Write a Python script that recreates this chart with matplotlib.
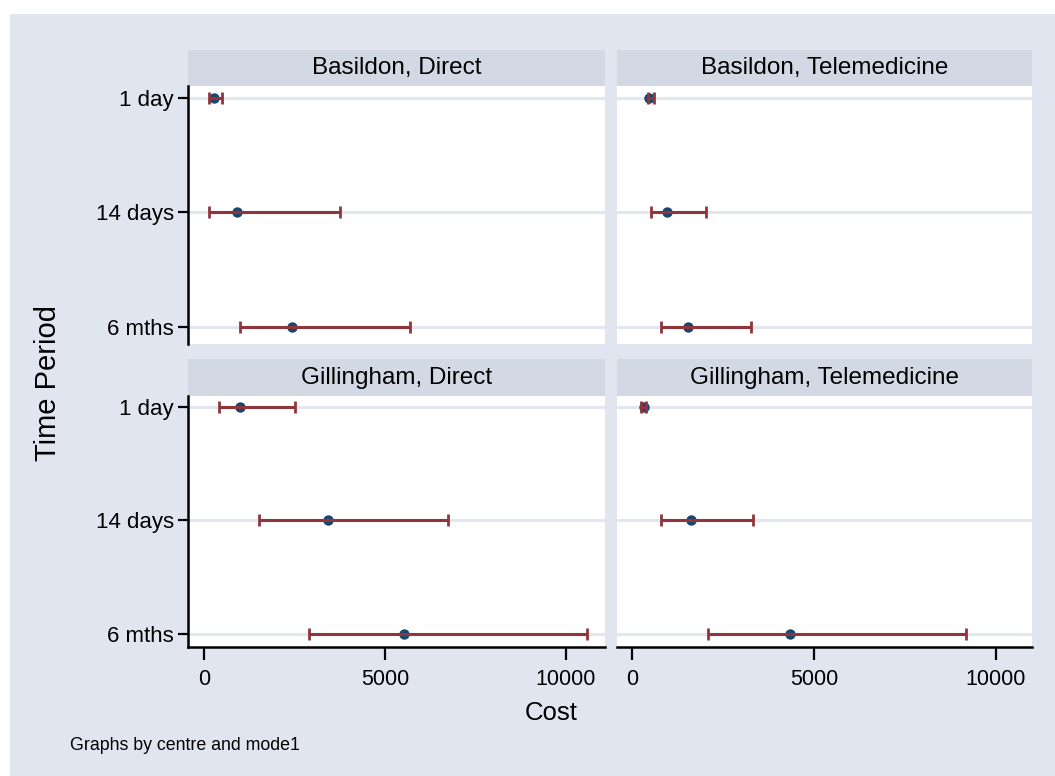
import matplotlib
matplotlib.use("Agg")
import matplotlib.pyplot as plt
from matplotlib.patches import Rectangle

plt.rcParams['font.family'] = ['Liberation Sans', 'DejaVu Sans']

# Cost estimates (mean with 95% interval) by centre and mode
periods = ["1 day", "14 days", "6 mths"]
panels = ["Basildon, Direct", "Basildon, Telemedicine",
          "Gillingham, Direct", "Gillingham, Telemedicine"]

bas_direct_mean = [270, 890, 2420]
bas_direct_lo = [140, 140, 990]
bas_direct_hi = [480, 3740, 5690]

bas_tele_mean = [470, 945, 1525]
bas_tele_lo = [440, 520, 780]
bas_tele_hi = [590, 2030, 3255]

gil_direct_mean = [980, 3405, 5525]
gil_direct_lo = [400, 1515, 2880]
gil_direct_hi = [2500, 6740, 10590]

gil_tele_mean = [313, 1615, 4350]
gil_tele_lo = [250, 780, 2085]
gil_tele_hi = [375, 3320, 9175]

x_ticks = [0, 5000, 10000]

series = [
    (bas_direct_mean, bas_direct_lo, bas_direct_hi),
    (bas_tele_mean, bas_tele_lo, bas_tele_hi),
    (gil_direct_mean, gil_direct_lo, gil_direct_hi),
    (gil_tele_mean, gil_tele_lo, gil_tele_hi),
]

W, H = 1055, 776
BG = "#e1e5f0"
HEADER = "#d3d9e4"
GRID = "#e1e6f0"
NAVY = "#1a476f"
MAROON = "#90353b"

fig = plt.figure(figsize=(W / 100, H / 100), dpi=100, facecolor="white")
fig.patches.append(Rectangle((10 / W, 0), (W - 10) / W, (H - 14) / H,
                             transform=fig.transFigure, facecolor=BG,
                             edgecolor="none", zorder=-10))


def frac(x0, y0, x1, y1):
    return [x0 / W, 1 - y1 / H, (x1 - x0) / W, (y1 - y0) / H]


cols = [(188, 605, (-454, 11079)), (617, 1032, (-421, 10999))]
rows = [(50, 86, 344, (3.151, 0.898)), (359, 396, 647, (3.117, 0.906))]

ypos = [1, 2, 3]

for i, (mean, lo, hi) in enumerate(series):
    r, c = divmod(i, 2)
    x0, x1, xl = cols[c]
    hy0, ay0, ay1, yl = rows[r]

    # strip header
    fig.patches.append(Rectangle((x0 / W, 1 - ay0 / H), (x1 - x0) / W,
                                 (ay0 - hy0) / H, transform=fig.transFigure,
                                 facecolor=HEADER, edgecolor="none", zorder=-5))
    fig.text((x0 + x1) / 2 / W, 1 - (hy0 + ay0) / 2 / H, panels[i],
             ha="center", va="center", fontsize=17.5, color="black")

    ax = fig.add_axes(frac(x0, ay0, x1, ay1))
    ax.set_facecolor("white")
    for yv in ypos:
        ax.axhline(yv, color=GRID, lw=2.2, zorder=1)

    ax.plot(mean, ypos, "o", color=NAVY, markersize=7.5, zorder=3,
            markeredgewidth=0)
    err = [[m - l for m, l in zip(mean, lo)], [h - m for m, h in zip(mean, hi)]]
    ax.errorbar(mean, ypos, xerr=err, fmt="none", ecolor=MAROON,
                elinewidth=2.2, capsize=4.6, capthick=2.0, zorder=4)

    ax.set_xlim(*xl)
    ax.set_ylim(*yl)

    for s in ax.spines.values():
        s.set_visible(False)

    if c == 0:
        ax.spines["left"].set_visible(True)
        ax.spines["left"].set_linewidth(1.8)
        ax.set_yticks(ypos)
        ax.set_yticklabels(periods, fontsize=16)
        ax.tick_params(axis="y", length=7, width=1.6, pad=3)
    else:
        ax.set_yticks([])

    if r == 1:
        ax.spines["bottom"].set_visible(True)
        ax.spines["bottom"].set_linewidth(1.8)
        ax.set_xticks(x_ticks)
        ax.set_xticklabels([str(t) for t in x_ticks], fontsize=15.5)
        ax.tick_params(axis="x", length=9, width=1.6, pad=7)
    else:
        ax.set_xticks([])

fig.text(551 / W, 1 - 713 / H, "Cost", ha="center", va="center", fontsize=18.5)
fig.text(48 / W, 1 - 383 / H, "Time Period", ha="center", va="center",
         rotation=90, fontsize=21)
fig.text(70 / W, 1 - 745 / H, "Graphs by centre and mode1", ha="left",
         va="center", fontsize=12.8)

fig.savefig("out.png", dpi=100, facecolor="white")
